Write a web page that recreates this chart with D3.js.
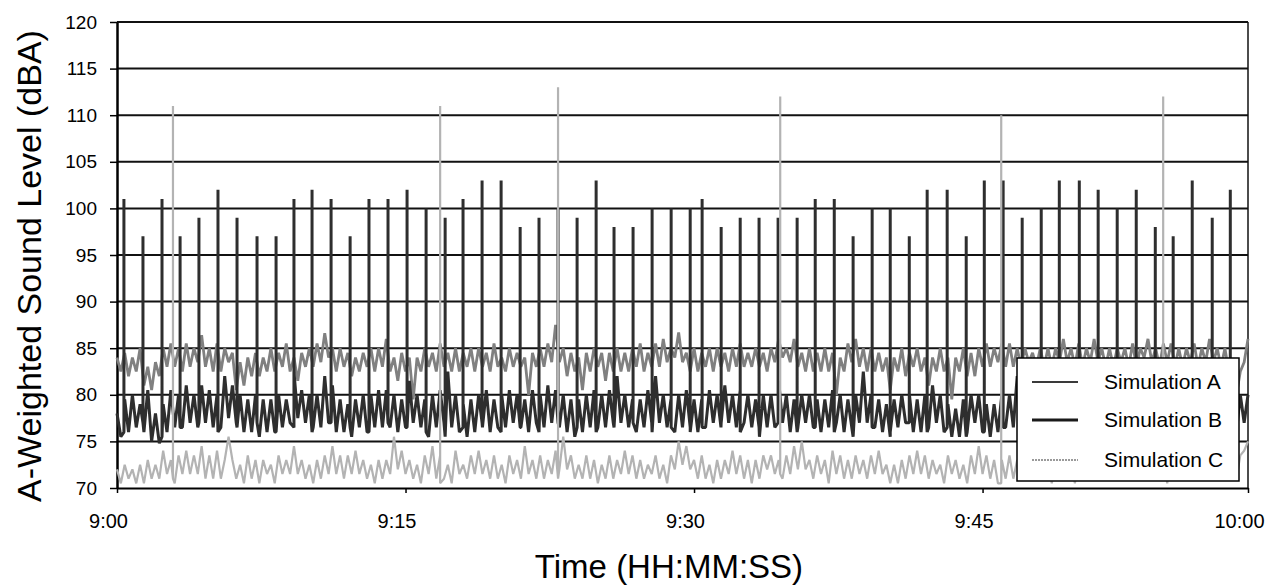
<!DOCTYPE html>
<html>
<head>
<meta charset="utf-8">
<script src="https://cdn.jsdelivr.net/npm/d3@7"></script>
<style>
  body { margin: 0; background: #fff; }
  svg { display: block; }
  text { font-family: "Liberation Sans", Arial, Helvetica, sans-serif; fill: #000; }
</style>
</head>
<body>
<svg id="chart" width="1274" height="586"></svg>
<script>
// ---- data -------------------------------------------------------------
const yTicks = [70, 75, 80, 85, 90, 95, 100, 105, 110, 115, 120];
const xTickMinutes = [0, 15, 30, 45, 58.8];
const xTickLabels = ["9:00", "9:15", "9:30", "9:45", "10:00"];
const sampleStepMin = 0.2; // one sample every 12 s, starting 9:00
const seriesNames = ["Simulation A", "Simulation B", "Simulation C"];

const simA = [
  84, 82.5, 84.5, 82, 84, 82.5, 85, 81, 83, 80.5,
  83.5, 82, 85, 83, 85.5, 83, 85, 82.5, 85.5, 83,
  85, 83.5, 86.4, 83, 85, 82.5, 85.5, 82.5, 85, 83.5,
  84.5, 80.5, 83.5, 81, 84, 82, 84.5, 82, 84, 82.5,
  85, 82.5, 84.5, 83, 85.5, 82.5, 84, 81.5, 84.5, 83,
  85, 83, 85.5, 83.5, 86.6, 84, 85, 82.5, 85, 83,
  84.5, 82, 84, 82.5, 84.5, 83, 85, 82.5, 85, 83,
  86, 82.5, 84, 81.5, 84.5, 82.5, 84, 79.5, 84, 82.5,
  85, 83, 84.5, 82.5, 85.5, 83, 84.5, 82.5, 85, 82.5,
  84.5, 83, 85, 82.5, 85, 83, 84.5, 82.5, 85.5, 83,
  84, 82.5, 85, 83, 84.5, 83, 84, 80, 84.5, 83,
  85, 83, 85.5, 83.5, 87.5, 83.5, 85, 82, 84.5, 82.5,
  84, 80.5, 84.5, 82.5, 85, 83, 84.5, 81.5, 84.5, 82.5,
  85, 82.5, 84.5, 82.5, 85, 83, 85.5, 82.5, 84.5, 83,
  85.5, 83, 86, 83.5, 85, 84, 86.7, 83.5, 84.5, 82.5,
  85, 82.5, 84.5, 83, 85, 82.5, 85, 83, 84.5, 82.5,
  85, 83, 85.5, 83, 84.5, 83, 85, 83, 84.5, 82.5,
  85, 83.5, 86, 84, 85, 83.5, 86, 83, 84.5, 82.5,
  85, 82.5, 84.5, 82.5, 85, 82.5, 84.5, 80, 84, 82.5,
  85.5, 83.5, 86, 83, 85, 82.5, 85, 82.5, 84.5, 82.5,
  84, 80.5, 84, 82.5, 85, 82, 84.5, 83, 85, 82.5,
  84, 81, 84, 82.5, 85, 82.5, 84, 79.5, 84, 82.5,
  85, 82, 84.5, 82, 85, 83, 85.5, 83, 85, 83.5,
  85.5, 83, 85.5, 83, 85, 83, 85, 83.5, 84.5, 83,
  85, 83, 85, 83, 85, 83.5, 86, 83.5, 85, 83,
  85.5, 83, 85, 83.5, 86, 83.5, 85, 83, 85, 83,
  85, 83.5, 85, 83, 85.5, 83, 85, 84, 86, 83.5,
  85, 83, 85.5, 83.5, 85.5, 83, 85, 83, 85, 83.5,
  85.5, 83, 85, 83.5, 86, 83.5, 85, 83, 85, 82.5,
  83, 80, 82.5, 83.5, 86
];

const simB = [
  78, 75.5, 79.5, 76, 80, 76.5, 79, 76, 80.5, 75,
  78, 74.8, 79, 76, 80.5, 76.5, 80, 76.5, 81, 77,
  80, 76.5, 81, 77, 80.5, 76.5, 80, 76.5, 82, 77.5,
  81, 77, 80, 76, 79.5, 76, 80, 75.5, 79.5, 76,
  79.5, 76, 80, 76.5, 79.5, 77, 82.5, 77.5, 80.5, 77,
  80, 76.5, 80, 76.5, 82, 77, 81, 76, 79.5, 76,
  79, 75.5, 79.5, 76.5, 80, 76, 80, 76.5, 80.5, 76.5,
  80.5, 76.5, 80, 76, 79.5, 76.5, 81.5, 77, 80, 76.5,
  79.5, 75.5, 80, 76.5, 80.5, 77, 82.5, 76.5, 80, 76,
  79, 75.5, 79.5, 76, 80, 76.5, 80.5, 76, 79.5, 76.5,
  80, 76.5, 80.5, 77, 80, 76.5, 79.5, 76, 80.5, 77,
  80, 76.5, 81, 77, 80.5, 76.5, 80, 76, 79.5, 75.5,
  79.5, 76, 80, 76.5, 80.5, 76.5, 80, 76.5, 80.5, 77,
  82, 77, 80, 76.5, 79.5, 76, 79.5, 76.5, 80.5, 77,
  82, 77, 80, 76.5, 79.5, 76, 80, 76.5, 80.5, 76.5,
  79.5, 76, 79.5, 76.5, 80.5, 77, 80, 76.5, 81, 77,
  80, 76.5, 80.5, 77, 80, 76.5, 79.5, 75.5, 80, 76.5,
  80, 76.5, 81.5, 77, 80, 76, 79.5, 76.5, 80, 77,
  80, 76.5, 79.5, 76, 79.5, 76.5, 80.5, 77, 80, 76,
  79.5, 76.5, 80, 77, 82.5, 77, 80, 76.5, 79.5, 76,
  79, 75.5, 79.5, 76.5, 80, 77, 80, 76, 79.5, 76,
  80, 76.5, 81, 77, 80, 76, 79, 75.5, 78.5, 75.5,
  79.5, 76, 80, 77, 80, 76, 79, 75.5, 79, 76,
  80, 76.5, 80, 76.5, 82, 77, 80, 76.5, 80, 76.5,
  80, 77, 80.5, 77, 80, 76.5, 80, 77, 80.5, 77,
  80, 76.5, 80.5, 77, 80, 76.5, 80, 77, 80.5, 76.5,
  80, 77, 80, 76.5, 80.5, 77, 80, 76.5, 80, 77,
  80, 76.5, 80.5, 77, 80, 76.5, 80, 77, 80.5, 77,
  80, 76.5, 80, 77, 80.5, 76.5, 80, 77, 80, 76.5,
  79.5, 76, 80, 77, 80
];

const simC = [
  72, 70.5, 72.5, 71, 72, 70.5, 72.5, 70.5, 73, 71,
  72.5, 71, 74, 71.5, 73, 70.5, 73.5, 71.5, 74, 71.5,
  73.5, 71.5, 74.5, 71, 73.5, 71, 74, 71, 73, 75.5,
  73, 71, 72.5, 70.5, 73.5, 71, 73, 70.5, 73, 71.5,
  72.5, 70.5, 73.5, 71.5, 73, 71.5, 74.5, 71.5, 73, 71,
  72.5, 70.5, 73, 71, 73.5, 71.5, 74.5, 71.5, 73.5, 71,
  73.5, 71.5, 74, 71.5, 73, 71, 72.5, 70.5, 73, 71,
  73, 71.5, 75.5, 72, 74, 71.5, 73, 71, 72.5, 70.5,
  73.5, 71.5, 74.5, 71, 73.5, 71, 72.5, 70.5, 74, 71.5,
  72.5, 71, 73.5, 71.5, 74, 71.5, 73, 71, 73.5, 71,
  72.5, 70.5, 73.5, 71.5, 73, 71, 74.5, 71.5, 73, 71,
  73.5, 71, 73, 71.5, 74, 72, 75.5, 72, 73.5, 71,
  72.5, 71, 73.5, 71, 73, 70.5, 72.5, 71, 73.5, 71,
  73, 71.5, 74, 71.5, 73.5, 71, 73, 71, 72.5, 71.5,
  73.5, 71, 72.5, 70.5, 73.5, 72, 75, 72.5, 74.5, 72,
  73, 71, 73.5, 71, 72.5, 70.5, 73, 71, 73, 71.5,
  74, 71.5, 73.5, 71, 73, 70.5, 73, 71, 73.5, 72,
  73.5, 71.5, 73, 71, 73.5, 71.5, 74.5, 72, 75, 72,
  73, 71, 73.5, 71.5, 73, 70.5, 74, 71.5, 73.5, 71,
  73, 71, 73.5, 71.5, 73, 71, 73.5, 71.5, 74, 71.5,
  72.5, 70.5, 72.5, 70.5, 73, 71, 73.5, 71.5, 74, 71.5,
  73.5, 71, 73, 71.5, 72.5, 70.5, 73.5, 71.5, 73, 71,
  72.5, 70.5, 73.5, 71.5, 74.5, 71.5, 73.5, 71, 73, 70.5,
  73, 71, 73.5, 71, 73, 71.5, 73, 71, 74, 71.5,
  73.5, 71, 72.5, 70.5, 73, 71, 73.5, 71.5, 73, 70.5,
  73, 71, 73.5, 71, 74, 71.5, 73, 71, 73.5, 71,
  72.5, 71, 74, 71.5, 73, 71, 73.5, 71.5, 72.5, 71,
  73.5, 71.5, 73, 70.5, 73.5, 71, 73, 71.5, 73.5, 71,
  73, 71, 73.5, 71, 73.5, 71.5, 72.5, 71, 73.5, 71,
  72.5, 71, 73.5, 74, 75
];

// short events: minutes after 9:00, level the event rises from, peak level (dBA)
const spikeBMin = [
  0.36, 1.35, 2.34, 3.28, 4.26, 5.25, 6.24, 7.28, 8.27, 9.20,
  10.14, 11.13, 12.12, 13.10, 14.09, 15.08, 16.07, 17.06, 17.99, 18.98,
  19.97, 20.96, 21.94, 22.93, 23.92, 24.91, 25.84, 26.83, 27.82, 28.81,
  29.80, 30.42, 31.41, 32.40, 33.38, 34.37, 35.36, 36.30, 37.29, 38.27,
  39.26, 40.20, 41.19, 42.12, 43.16, 44.15, 45.09, 46.07, 47.06, 48.05,
  48.99, 50.03, 51.01, 52.00, 52.99, 53.98, 54.91, 55.90, 56.94, 57.88
];
const spikeBBase = [
  76, 77, 75.5, 76.5, 77, 76, 76.5, 77, 76, 76.5,
  76, 77, 76.5, 76, 77, 76.5, 76, 75.5, 76.5, 77,
  76, 76.5, 76, 77, 76.5, 76, 76.5, 77, 76, 76.5,
  76, 76.5, 77, 76, 76.5, 77, 76, 76.5, 76, 75.5,
  76.5, 76, 77, 76, 76.5, 75.5, 76, 76.5, 77, 76,
  76.5, 77, 76, 76.5, 77, 76, 76.5, 76, 77, 76.5
];
const spikeBDb = [
  101, 97, 101, 97, 99, 102, 99, 97, 97, 101,
  102, 101, 97, 101, 101, 102, 100, 99, 101, 103,
  103, 98, 99, 100, 99, 103, 98, 98, 100, 100,
  100, 101, 98, 99, 99, 99, 99, 101, 101, 97,
  100, 100, 97, 102, 102, 97, 103, 103, 99, 100,
  103, 103, 102, 100, 102, 98, 97, 103, 99, 102
];
const spikeCMin = [2.91, 16.80, 22.93, 34.48, 45.97, 54.39];
const spikeCBase = [71, 70.5, 71, 71.5, 70.5, 71];
const spikeCDb = [111, 111, 113, 112, 110, 112];

// ---- layout -----------------------------------------------------------
const svg = d3.select("#chart");
const x = d3.scaleLinear().domain([0, 58.8]).range([117, 1248]);
const y = d3.scaleLinear().domain([70, 120]).range([488, 22]);

// merge regular samples with short events; each event rises vertically
// from its base level to its peak and drops back to the base level
function buildSeries(values, spikeT, spikeBase, spikeV) {
  const pts = values.map((v, i) => ({ t: i * sampleStepMin, v, k: 0 }));
  spikeT.forEach((t, j) => {
    pts.push({ t, v: spikeBase[j], k: 1 });
    pts.push({ t, v: spikeV[j], k: 2 });
    pts.push({ t, v: spikeBase[j], k: 3 });
  });
  pts.sort((a, b) => a.t - b.t || a.k - b.k);
  return pts;
}

const seriesA = buildSeries(simA, [], [], []);
const seriesB = buildSeries(simB, spikeBMin, spikeBBase, spikeBDb);
const seriesC = buildSeries(simC, spikeCMin, spikeCBase, spikeCDb);

// horizontal gridlines
svg.append("g")
  .selectAll("line")
  .data(yTicks.filter(d => d > 70))
  .join("line")
  .attr("x1", x(0)).attr("x2", x(58.8))
  .attr("y1", d => y(d)).attr("y2", d => y(d))
  .attr("stroke", "#111").attr("stroke-width", 2);

// right border of the plot area
svg.append("line")
  .attr("x1", x(58.8)).attr("x2", x(58.8))
  .attr("y1", y(120)).attr("y2", y(70))
  .attr("stroke", "#111").attr("stroke-width", 1.5);

// y axis
const yAxis = svg.append("g")
  .attr("transform", `translate(${x(0)},0)`)
  .call(d3.axisLeft(y).tickValues(yTicks).tickSize(7).tickSizeOuter(0).tickPadding(13));
yAxis.select(".domain").attr("stroke", "#000").attr("stroke-width", 2.5);
yAxis.selectAll(".tick line").attr("stroke", "#000").attr("stroke-width", 1.5);
yAxis.selectAll("text").attr("font-size", 19).attr("font-family", "Liberation Sans, Arial, sans-serif");

// x axis
const xAxis = svg.append("g")
  .attr("transform", `translate(0,${y(70)})`)
  .call(d3.axisBottom(x).tickValues(xTickMinutes)
    .tickFormat((d, i) => xTickLabels[i]).tickSize(5).tickSizeOuter(0).tickPadding(21));
xAxis.select(".domain").attr("stroke", "#000").attr("stroke-width", 2);
xAxis.selectAll(".tick line").attr("stroke", "#000").attr("stroke-width", 1.5);
xAxis.selectAll("text").attr("font-size", 20).attr("dx", -9)
  .attr("font-family", "Liberation Sans, Arial, sans-serif");

// series lines
const line = d3.line().x(d => x(d.t)).y(d => y(d.v));
const styles = [
  { data: seriesA, color: "#808080", width: 2.8 },
  { data: seriesB, color: "#2e2e2e", width: 3 },
  { data: seriesC, color: "#b3b3b3", width: 2.2 }
];
svg.append("g")
  .selectAll("path")
  .data(styles)
  .join("path")
  .attr("d", d => line(d.data))
  .attr("fill", "none")
  .attr("stroke", d => d.color)
  .attr("stroke-width", d => d.width)
  .attr("stroke-linejoin", "bevel");

// axis titles
svg.append("text")
  .attr("transform", "translate(41,266) rotate(-90)")
  .attr("text-anchor", "middle")
  .attr("font-size", 34)
  .text("A-Weighted Sound Level (dBA)");
svg.append("text")
  .attr("x", 669).attr("y", 578)
  .attr("text-anchor", "middle")
  .attr("font-size", 33)
  .text("Time (HH:MM:SS)");

// legend
const legend = svg.append("g");
legend.append("rect")
  .attr("x", 1017).attr("y", 358).attr("width", 222).attr("height", 123)
  .attr("fill", "#fff").attr("stroke", "#000").attr("stroke-width", 1.5);
const legendStyles = [
  { color: "#3a3a3a", width: 2, dash: null },
  { color: "#1a1a1a", width: 3, dash: null },
  { color: "#9a9a9a", width: 2, dash: "2,1" }
];
const legendY = [382, 420, 460];
seriesNames.forEach((name, i) => {
  legend.append("line")
    .attr("x1", 1032).attr("x2", 1078)
    .attr("y1", legendY[i]).attr("y2", legendY[i])
    .attr("stroke", legendStyles[i].color)
    .attr("stroke-width", legendStyles[i].width)
    .attr("stroke-dasharray", legendStyles[i].dash);
  legend.append("text")
    .attr("x", 1104).attr("y", legendY[i]).attr("dy", "0.35em")
    .attr("font-size", 21)
    .text(name);
});
</script>
</body>
</html>
